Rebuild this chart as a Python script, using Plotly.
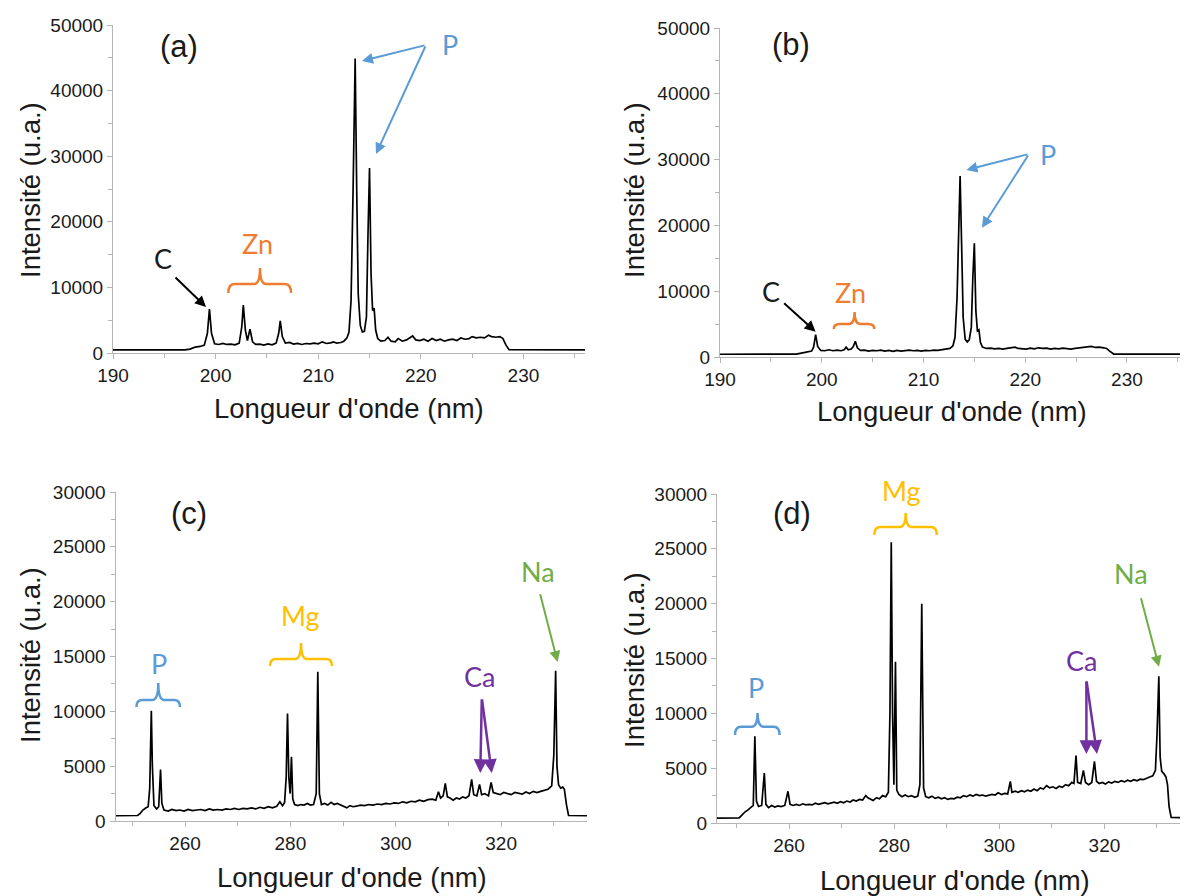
import plotly.graph_objects as go

# page body has an 8px margin: the figure is drawn 8px in from the top-left corner
OFF = 8
W, H = 1188 - OFF, 896 - OFF

# ---------------- data ----------------
wl_a = [190, 197.0, 197.5, 198.0, 198.5, 198.9, 199.2, 199.4, 199.6, 199.9, 200.3, 200.7, 201.1, 201.5,
        201.9, 202.3, 202.55, 202.7, 202.9, 203.1, 203.35, 203.6, 203.9, 204.3, 204.7, 205.1, 205.5,
        205.9, 206.15, 206.3, 206.5, 206.8, 207.2, 207.6, 208.0, 208.4, 208.8, 209.2, 209.6, 210.0,
        210.4, 210.8, 211.2, 211.5, 211.8, 212.2, 212.5, 212.8, 213.0, 213.2, 213.4, 213.6, 213.75,
        213.9, 214.1, 214.3, 214.5, 214.7, 214.85, 215.0, 215.15, 215.3, 215.45, 215.6, 215.8, 216.1,
        216.5, 216.8, 217.1, 217.5, 217.8, 218.2, 218.6, 219.0, 219.2, 219.5, 219.9, 220.3, 220.7,
        221.1, 221.5, 221.9, 222.3, 222.7, 223.1, 223.5, 223.9, 224.3, 224.7, 225.0, 225.4, 225.8,
        226.2, 226.6, 226.9, 227.3, 227.7, 228.0, 228.3, 228.6, 236]
int_a = [480, 480, 600, 900, 1000, 1200, 3000, 6700, 3000, 1400, 1300, 1450, 1300, 1350,
         1250, 1500, 4000, 7300, 3500, 1900, 3650, 1700, 1300, 1350, 1200, 1400, 1250,
         1500, 3000, 4900, 2500, 1500, 1600, 1350, 1450, 1300, 1450, 1400, 1500, 1400,
         1700, 1450, 1550, 1700, 1500, 1600, 1800, 2300, 3200, 8000, 25000, 44900, 25000,
         9000, 4200, 3200, 3300, 5500, 18000, 28200, 12000, 6500, 6800, 3500, 2200, 1800,
         1900, 2400, 1800, 1700, 2200, 1800, 2000, 2400, 2600, 2000, 1900, 2100, 1800,
         2200, 1900, 2100, 1800, 2000, 2100, 1900, 2300, 2100, 2200, 2500, 2300, 2400,
         2300, 2700, 2500, 2400, 2500, 2200, 1200, 500, 480]

wl_b = [190, 197.5, 198.0, 198.5, 199.0, 199.2, 199.4, 199.6, 199.9, 200.3, 200.7, 201.1, 201.5,
        201.9, 202.2, 202.4, 202.6, 202.9, 203.1, 203.3, 203.5, 203.8, 204.2, 204.6, 205.0, 205.4,
        205.8, 206.2, 206.6, 207.0, 207.4, 207.8, 208.2, 208.6, 209.0, 209.4, 209.8, 210.2, 210.6,
        211.0, 211.4, 211.8, 212.2, 212.6, 212.9, 213.1, 213.3, 213.5, 213.6, 213.75, 213.9, 214.1,
        214.3, 214.5, 214.7, 214.85, 215.0, 215.15, 215.3, 215.45, 215.6, 215.8, 216.2, 216.6, 217.0,
        217.4, 217.8, 218.2, 218.6, 219.0, 219.3, 219.7, 220.1, 220.5, 220.9, 221.3, 221.7, 222.1,
        222.5, 222.9, 223.3, 223.7, 224.1, 224.5, 224.9, 225.3, 225.7, 226.1, 226.5, 226.9, 227.3,
        227.7, 228.0, 228.3, 228.7, 236]
int_b = [420, 430, 600, 800, 900, 1500, 3400, 1600, 1000, 950, 1100, 950, 1050,
         950, 1100, 1500, 1100, 1200, 1600, 2400, 1400, 1000, 1050, 900, 1000, 950,
         1050, 900, 1000, 850, 1000, 900, 950, 1050, 950, 1000, 900, 1000, 950,
         1050, 1000, 1100, 1150, 1300, 1700, 3000, 9000, 22000, 27500, 17000, 6000, 2700,
         2300, 2600, 4500, 12000, 17300, 7000, 4000, 4150, 2200, 1500, 1300, 1350, 1250,
         1300, 1200, 1300, 1350, 1500, 1300, 1250, 1200, 1350, 1250, 1400, 1300, 1350,
         1200, 1300, 1250, 1350, 1300, 1200, 1300, 1350, 1450, 1500, 1600, 1450, 1500,
         1400, 1300, 900, 450, 430]

wl_c = [246.8, 251.0, 251.5, 252.0, 252.6, 253.0, 253.3, 253.6, 253.8, 254.1, 254.6, 255.0, 255.35,
        255.6, 256.0, 256.8, 257.5, 258.3, 259.0, 259.8, 260.6, 261.4, 262.2, 263.0, 263.8, 264.6,
        265.4, 266.2, 267.0, 267.8, 268.6, 269.4, 270.2, 271.0, 271.8, 272.6, 273.4, 274.2, 275.0,
        275.8, 276.6, 277.4, 278.0, 278.5, 278.9, 279.2, 279.45, 279.7, 279.95, 280.2, 280.45, 280.8,
        281.4, 282.0, 282.6, 283.2, 283.8, 284.4, 284.9, 285.2, 285.5, 285.9, 286.5, 287.1, 287.7,
        288.3, 288.9, 289.5, 290.1, 290.7, 291.3, 291.9, 292.5, 293.3, 294.1, 294.9, 295.7, 296.5,
        297.3, 298.1, 298.9, 299.7, 300.5, 301.3, 302.1, 302.9, 303.7, 304.5, 305.3, 306.1, 306.9,
        307.6, 308.1, 308.5, 309.0, 309.4, 309.8, 310.3, 310.9, 311.5, 312.1, 312.7, 313.3, 313.9,
        314.4, 314.8, 315.4, 315.9, 316.3, 316.9, 317.6, 318.1, 318.5, 319.1, 319.8, 320.5, 321.2,
        321.9, 322.6, 323.3, 324.0, 324.7, 325.4, 326.1, 326.8, 327.5, 328.2, 328.9, 329.6, 330.0,
        330.35, 330.6, 330.9, 331.3, 331.7, 332.0, 332.4, 332.8, 336.3]
int_c = [480, 500, 700, 1000, 1200, 1300, 3000, 10050, 5000, 1400, 1100, 1300, 4700,
         1600, 1000, 900, 1050, 950, 1000, 900, 1050, 950, 1000, 1050, 950, 1100,
         1000, 1050, 1000, 1100, 1050, 1150, 1050, 1150, 1100, 1200, 1100, 1250, 1150,
         1300, 1200, 1350, 1760, 1400, 1700, 4000, 9800, 4000, 2500, 5860, 2000, 1500,
         1400, 1500, 1450, 1600, 1450, 1500, 2500, 13600, 2500, 1500, 1600, 1450, 1700,
         1500, 1600, 1450, 1350, 1200, 1400, 1300, 1350, 1450, 1400, 1500, 1450, 1550,
         1500, 1600, 1550, 1650, 1600, 1750, 1650, 1800, 1750, 1900, 1800, 1950, 2000,
         1900, 2670, 2100, 2300, 3430, 2200, 2100, 1900, 2100, 2000, 2200, 2100, 2300,
         3800, 2400, 2300, 3340, 2400, 2500, 2300, 3520, 2600, 2500, 2400, 2600, 2500,
         2400, 2600, 2500, 2450, 2650, 2500, 2700, 2600, 2700, 2800, 2900, 3200, 6000,
         13700, 5000, 3300, 3000, 3100, 2900, 1500, 500, 480]

wl_d = [246.3, 250.5, 251.0, 251.6, 252.2, 252.8, 253.2, 253.5, 253.8, 254.2, 254.8, 255.3, 255.6,
        256.1, 256.7, 257.3, 257.9, 258.5, 259.2, 259.8, 260.2, 260.8, 261.4, 262.0, 262.6, 263.2,
        263.8, 264.4, 265.0, 265.6, 266.2, 266.8, 267.4, 268.0, 268.6, 269.2, 269.8, 270.4, 271.0,
        271.6, 272.2, 272.8, 273.4, 274.0, 274.6, 275.0, 275.5, 276.0, 276.6, 277.2, 277.8, 278.4,
        278.9, 279.2, 279.45, 279.7, 279.95, 280.25, 280.5, 280.9, 281.5, 282.1, 282.7, 283.3, 283.9,
        284.5, 284.9, 285.25, 285.6, 286.0, 286.6, 287.2, 287.8, 288.4, 289.0, 289.6, 290.2, 290.8,
        291.4, 292.0, 292.6, 293.2, 293.8, 294.4, 295.0, 295.6, 296.2, 296.8, 297.4, 298.0, 298.6,
        299.2, 299.8, 300.4, 301.0, 301.6, 302.1, 302.4, 303.0, 303.6, 304.2, 304.8, 305.4, 306.0,
        306.6, 307.2, 307.8, 308.4, 309.0, 309.6, 310.2, 310.8, 311.4, 312.0, 312.6, 313.2, 313.8,
        314.2, 314.6, 314.9, 315.5, 316.0, 316.4, 317.0, 317.6, 318.1, 318.5, 319.0, 319.6, 320.2,
        320.8, 321.4, 322.0, 322.6, 323.2, 323.8, 324.4, 325.0, 325.6, 326.2, 326.8, 327.4, 328.0,
        328.6, 329.2, 329.7, 330.0, 330.35, 330.6, 330.9, 331.3, 331.7, 332.0, 332.3, 332.7, 335.9]
int_d = [450, 470, 700, 1000, 1200, 1400, 1600, 7900, 2000, 1500, 1600, 4560, 1700,
         1400, 1600, 1450, 1550, 1500, 1600, 2890, 1700, 1600, 1700, 1600, 1750, 1650,
         1700, 1650, 1800, 1700, 1750, 1850, 1750, 1800, 1900, 1800, 1950, 1850, 2000,
         1900, 2100, 2000, 2150, 2100, 2500, 2300, 2150, 2050, 2300, 2200, 2500, 2400,
         2800, 10000, 25600, 10000, 3500, 14700, 3000, 2600, 2400, 2550, 2400, 2500, 2350,
         2450, 3500, 20000, 3200, 2400, 2300, 2450, 2250, 2350, 2200, 2300, 2150, 2250,
         2200, 2350, 2300, 2500, 2400, 2550, 2450, 2600, 2500, 2550, 2450, 2500, 2600,
         2550, 2750, 2600, 2700, 2650, 3800, 2800, 2900, 2800, 2950, 2850, 3000, 2900,
         3100, 2950, 3200, 3100, 3400, 3200, 3300, 3150, 3350, 3250, 3500, 3400, 3700,
         3600, 6140, 3700, 3600, 4800, 3700, 3500, 3700, 5620, 3800, 3600, 3700, 3550,
         3750, 3650, 3800, 3700, 3850, 3750, 3900, 3800, 3950, 3850, 4000, 3950, 4100,
         4200, 4300, 4800, 8000, 13370, 6000, 4700, 4500, 4200, 3500, 1500, 500, 470]

panel_letters = ["(a)", "(b)", "(c)", "(d)"]
x_title = "Longueur d'onde (nm)"
y_title = "Intensité (u.a.)"

BLUE, ORANGE, GOLD, PURPLE, GREEN = "#5B9BD5", "#ED7D31", "#FFC000", "#7030A0", "#70AD47"
AXC = "#b5b5b5"
TXT = "#1a1a1a"
TICKFONT = dict(family="Liberation Sans, Arial", size=19, color=TXT)
LBL = 27  # element label size


def px(x):
    return (x - OFF) / W


def py(y):
    return 1 - (y - OFF) / H


panels = [
    dict(wl=wl_a, it=int_a, xr=[190, 236], yr=[0, 50000], xd=(113, 585), yd=(25, 353),
         t0=190, dt=10, mt0=185, mdt=5, ydt=10000, ymdt=5000),
    dict(wl=wl_b, it=int_b, xr=[190, 236], yr=[0, 50000], xd=(720, 1188), yd=(28, 357),
         t0=190, dt=10, mt0=185, mdt=5, ydt=10000, ymdt=5000),
    dict(wl=wl_c, it=int_c, xr=[246.8, 336.3], yr=[0, 30000], xd=(115.5, 587), yd=(492, 821),
         t0=260, dt=20, mt0=250, mdt=10, ydt=5000, ymdt=2500),
    dict(wl=wl_d, it=int_d, xr=[246.3, 335.9], yr=[0, 30000], xd=(717, 1188), yd=(494, 823),
         t0=260, dt=20, mt0=250, mdt=10, ydt=5000, ymdt=2500),
]

fig = go.Figure()
layout = dict(width=W, height=H, margin=dict(l=0, r=0, t=0, b=0, pad=0, autoexpand=False),
              showlegend=False, paper_bgcolor="white", plot_bgcolor="white")

for i, p in enumerate(panels):
    n = "" if i == 0 else str(i + 1)
    fig.add_trace(go.Scatter(x=p["wl"], y=p["it"], mode="lines",
                             line=dict(color="black", width=1.7),
                             xaxis="x" + n, yaxis="y" + n, hoverinfo="skip"))
    layout["xaxis" + n] = dict(
        domain=[px(p["xd"][0]), min(1.0, px(p["xd"][1]))], range=p["xr"], anchor="y" + n,
        automargin=False,
        showline=True, linecolor=AXC, linewidth=1, ticks="outside", ticklen=5,
        tickcolor=AXC, tick0=p["t0"], dtick=p["dt"], showgrid=False, zeroline=False,
        tickfont=TICKFONT, tickformat="d",
        minor=dict(ticks="outside", ticklen=4, tickcolor=AXC, tick0=p["mt0"], dtick=p["mdt"],
                   showgrid=False))
    layout["yaxis" + n] = dict(
        domain=[py(p["yd"][1]), py(p["yd"][0])], range=p["yr"], anchor="x" + n,
        automargin=False,
        showline=True, linecolor=AXC, linewidth=1, ticks="outside", ticklen=5,
        tickcolor=AXC, tick0=0, dtick=p["ydt"], showgrid=False, zeroline=False,
        tickfont=TICKFONT, tickformat="d",
        minor=dict(ticks="outside", ticklen=4, tickcolor=AXC, tick0=0, dtick=p["ymdt"],
                   showgrid=False))

annotations = []
shapes = []


def text(x, y, s, color=TXT, size=LBL, family="Lato, Noto Sans", angle=0):
    annotations.append(dict(x=px(x), y=py(y), xref="paper", yref="paper", text=s,
                            showarrow=False, xanchor="center", yanchor="middle",
                            textangle=angle, font=dict(family=family, size=size, color=color)))


def arrow(tx, ty, hx, hy, color, width=2):
    annotations.append(dict(x=px(hx), y=py(hy), xref="paper", yref="paper", text="",
                            showarrow=True, ax=tx - hx, ay=ty - hy, axref="pixel", ayref="pixel",
                            arrowhead=2, arrowsize=1.1, arrowwidth=width, arrowcolor=color,
                            standoff=0, startstandoff=0))


def brace(xl, xr, xt, yend, ybar, ytip, color, r=6):
    pts = lambda x, y: f"{px(x):.5f},{py(y):.5f}"
    path = (f"M {pts(xl, yend)} Q {pts(xl, ybar)} {pts(xl + r, ybar)} "
            f"L {pts(xt - r, ybar)} Q {pts(xt, ybar)} {pts(xt, ytip)} "
            f"Q {pts(xt, ybar)} {pts(xt + r, ybar)} "
            f"L {pts(xr - r, ybar)} Q {pts(xr, ybar)} {pts(xr, yend)}")
    shapes.append(dict(type="path", path=path, xref="paper", yref="paper",
                       line=dict(color=color, width=2.5)))


# axis titles
AXF = "Liberation Sans, Arial"
for (cx, cy, yx, yy) in [(349, 408, 30, 190), (952, 411, 634, 190),
                          (352, 877, 30, 655), (955, 880, 634, 660)]:
    text(cx, cy, x_title, size=27.5, family=AXF)
    text(yx, yy, y_title, size=27.5, family=AXF, angle=-90)

# panel letters
for (lx, ly), s in zip([(179, 46), (791, 45), (189, 514), (792, 514)], panel_letters):
    text(lx, ly, s, size=31, family=AXF)

# ---- panel (a)
text(163, 259, "C")
arrow(174, 276, 206, 307, "black")
text(257, 243, "Zn", color=ORANGE)
brace(228.4, 291, 260, 293, 284, 268, ORANGE)
text(450, 44, "P", color=BLUE)
arrow(426, 45, 362, 61, BLUE)
arrow(426, 45, 376, 154, BLUE)

# ---- panel (b)
text(770.5, 291, "C")
arrow(782.6, 302, 815.6, 331.7, "black")
text(850.4, 292, "Zn", color=ORANGE)
brace(833.8, 874.3, 854.6, 329, 324, 312, ORANGE)
text(1048, 154, "P", color=BLUE)
arrow(1029, 154, 966.4, 170, BLUE)
arrow(1029, 154, 982, 227.7, BLUE)

# ---- panel (c)
text(158.7, 663, "P", color=BLUE)
brace(136.4, 180, 158.3, 707, 700, 683, BLUE)
text(300.8, 615, "Mg", color=GOLD)
brace(270, 332, 301, 666, 659, 643, GOLD)
text(479, 676.5, "Ca", color=PURPLE)
arrow(481.8, 698, 480.3, 773, PURPLE, 2.5)
arrow(481.8, 698, 491.7, 773, PURPLE, 2.5)
text(538, 571.5, "Na", color=GREEN)
arrow(539.8, 592.7, 557.6, 662, GREEN)

# ---- panel (d)
text(755.6, 687, "P", color=BLUE)
brace(735, 779.6, 757.6, 735, 726.7, 713, BLUE)
text(901.8, 490, "Mg", color=GOLD)
brace(874.3, 936.8, 905.7, 535, 527, 513, GOLD)
text(1081.5, 660, "Ca", color=PURPLE)
arrow(1086.4, 680, 1086.4, 754, PURPLE, 2.5)
arrow(1086.4, 680, 1097, 754, PURPLE, 2.5)
text(1130.7, 573, "Na", color=GREEN)
arrow(1140.6, 596.7, 1159, 666.7, GREEN)

layout["annotations"] = annotations
layout["shapes"] = shapes
fig.update_layout(**layout)
fig.write_html("out.html")
